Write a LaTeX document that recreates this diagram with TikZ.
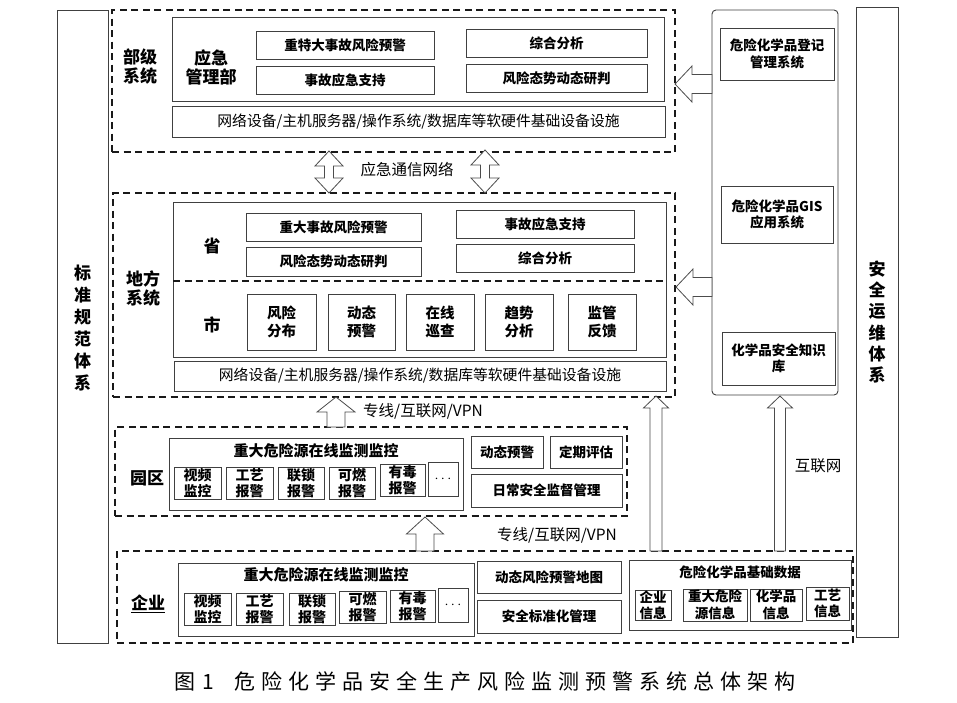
\documentclass[tikz,border=0pt]{standalone}
\usepackage{fontspec}
\setmainfont{Noto Sans CJK SC}
\def\capsp#1{\ifx#1\relax\else#1\kern6pt\expandafter\capsp\fi}
\newcommand\bxn[6][]{\node[#1, minimum width={(#4-#2)*1pt}, minimum height={(#5-#3)*1pt}] (#6) at ({(#2+#4)/2},{(#3+#5)/2})}
% up arrow: cx, ytip, yhead, ybot, headhalf, shafthalf
\newcommand\uparr[6]{\draw[harrow] ({#1-#6},#4) -- ({#1-#6},#3) -- ({#1-#5},#3) -- (#1,#2) -- ({#1+#5},#3) -- ({#1+#6},#3) -- ({#1+#6},#4) -- cycle;}
% double arrow: cx, ytop, ybot, headlen, headhalf, shafthalf
\newcommand\dblarr[6]{\draw[harrow] (#1,#2) -- ({#1+#5},{#2+#4}) -- ({#1+#6},{#2+#4}) -- ({#1+#6},{#3-#4}) -- ({#1+#5},{#3-#4}) -- (#1,#3) -- ({#1-#5},{#3-#4}) -- ({#1-#6},{#3-#4}) -- ({#1-#6},{#2+#4}) -- ({#1-#5},{#2+#4}) -- cycle;}
% left arrow: cy, xtip, xhead, xend, headhalf, shafthalf
\newcommand\leftarr[6]{\draw[harrow] (#4,{#1-#6}) -- (#3,{#1-#6}) -- (#3,{#1-#5}) -- (#2,#1) -- (#3,{#1+#5}) -- (#3,{#1+#6}) -- (#4,{#1+#6}) -- cycle;}
\begin{document}
\begin{tikzpicture}[x=1pt,y=-1pt,
 dbox/.style={draw=black!90, line width=1.5pt, dash pattern=on 7pt off 4.5pt, inner sep=0pt},
 sbox/.style={draw=black!75, line width=0.9pt, inner sep=0pt, align=center},
 lbl/.style={font=\fontsize{17}{19}\selectfont\bfseries, align=center, inner sep=0pt},
 btxt/.style={font=\fontsize{13.5}{16.5}\selectfont\bfseries},
 stxt/.style={font=\fontsize{14}{16.5}\selectfont\bfseries},
 ctxt/.style={font=\fontsize{14.5}{18.5}\selectfont\bfseries},
 ttxt/.style={font=\fontsize{15}{17}\selectfont\bfseries},
 itxt/.style={font=\fontsize{14.8}{17}\selectfont},
 ntxt/.style={font=\fontsize{15.5}{18}\selectfont, inner sep=0pt},
 harrow/.style={draw=black!70, line width=0.8pt, fill=white}]
\fill[white] (0,0) rectangle (957,702);
\useasboundingbox (0,0) rectangle (957,702);

% side bars
\bxn[sbox]{57}{10}{108}{643}{lbar}{};
\node[lbl, font=\fontsize{17}{22}\selectfont\bfseries] (lbart) at (82.5,328) {标\\准\\规\\范\\体\\系};
\bxn[sbox]{856}{7}{898}{637}{rbar}{};
\node[lbl, font=\fontsize{17}{21.3}\selectfont\bfseries] (rbart) at (877,322) {安\\全\\运\\维\\体\\系};

% right panel
\bxn[sbox, rounded corners=4pt]{712}{10}{838}{395}{rp}{};
\bxn[sbox,btxt]{720}{28}{834}{80}{rp1}{危险化学品登记\\管理系统};
\bxn[sbox,btxt]{721}{186}{833}{243}{rp2}{危险化学品GIS\\应用系统};
\bxn[sbox,btxt]{722}{332}{835}{385}{rp3}{化学品安全知识\\库};

% ministry level
\bxn[dbox]{112}{10}{675}{152}{bu}{};
\bxn[sbox]{172}{17}{664}{101}{buin}{};
\node[lbl] (bulbl) at (140,67) {部级\\系统};
\node[lbl] (yjgl) at (211,67) {应急\\管理部};
\bxn[sbox,btxt]{256}{31}{434}{59}{b1}{重特大事故风险预警};
\bxn[sbox,btxt]{256}{66}{434}{94}{b2}{事故应急支持};
\bxn[sbox,btxt]{466}{29}{647}{57}{b3}{综合分析};
\bxn[sbox,btxt]{466}{64}{647}{92}{b4}{风险态势动态研判};
\bxn[sbox,itxt]{172}{106}{665}{137}{binf}{网络设备/主机服务器/操作系统/数据库等软硬件基础设备设施};

% network label
\node[ntxt] (yjtx) at (407,170) {应急通信网络};

% local level
\bxn[dbox]{113}{193}{675}{397}{df}{};
\bxn[sbox]{173}{202}{666}{357}{dfin}{};
\draw[dbox] (173,281) -- (666,281);
\node[lbl] (dflbl) at (143,288) {地方\\系统};
\node[lbl] (sheng) at (212,246) {省};
\node[lbl] (shi) at (212,325) {市};
\bxn[sbox,btxt]{246}{213}{421}{241}{d1}{重大事故风险预警};
\bxn[sbox,btxt]{246}{247}{421}{276}{d2}{风险态势动态研判};
\bxn[sbox,btxt]{456}{210}{634}{238}{d3}{事故应急支持};
\bxn[sbox,btxt]{456}{244}{634}{272}{d4}{综合分析};
\bxn[sbox,ctxt]{247}{294}{316}{350}{c1}{风险\\分布};
\bxn[sbox,ctxt]{328}{294}{395}{350}{c2}{动态\\预警};
\bxn[sbox,ctxt]{406}{294}{474}{350}{c3}{在线\\巡查};
\bxn[sbox,ctxt]{485}{294}{553}{350}{c4}{趋势\\分析};
\bxn[sbox,ctxt]{568}{294}{636}{350}{c5}{监管\\反馈};
\bxn[sbox,itxt]{174}{361}{666}{391}{dinf}{网络设备/主机服务器/操作系统/数据库等软硬件基础设备设施};

% park level
\node[ntxt] (vpn1) at (423,411) {专线/互联网/VPN};
\bxn[dbox]{115}{427}{627}{516}{yq}{};
\node[lbl] (yqlbl) at (147,478) {园区};
\bxn[sbox]{169}{438}{463}{510}{yqin}{};
\node[ttxt, inner sep=0pt] (yqt) at (316,451) {重大危险源在线监测监控};
\bxn[sbox,stxt]{174}{467}{221}{499}{p1}{视频\\监控};
\bxn[sbox,stxt]{226}{467}{273}{499}{p2}{工艺\\报警};
\bxn[sbox,stxt]{278}{467}{324}{499}{p3}{联锁\\报警};
\bxn[sbox,stxt]{329}{467}{375}{499}{p4}{可燃\\报警};
\bxn[sbox,stxt]{380}{464}{425}{496}{p5}{有毒\\报警};
\bxn[sbox,stxt]{428}{462}{458}{496}{p6}{$\cdots$};
\bxn[sbox,btxt]{471}{436}{543}{468}{p7}{动态预警};
\bxn[sbox,btxt]{550}{436}{622}{468}{p8}{定期评估};
\bxn[sbox,btxt]{471}{474}{622}{507}{p9}{日常安全监督管理};

% enterprise level
\node[ntxt] (vpn2) at (557,535) {专线/互联网/VPN};
\node[ntxt] (hlw) at (818,466) {互联网};
\bxn[dbox]{117}{551}{853}{643}{qy}{};
\node[lbl] (qylbl) at (148,604) {\underline{企业}};
\bxn[sbox]{178}{563}{474}{636}{qyin}{};
\node[ttxt, inner sep=0pt] (qyt) at (326,575) {重大危险源在线监测监控};
\bxn[sbox,stxt]{184}{593}{231}{625}{e1}{视频\\监控};
\bxn[sbox,stxt]{236}{593}{283}{625}{e2}{工艺\\报警};
\bxn[sbox,stxt]{289}{593}{335}{625}{e3}{联锁\\报警};
\bxn[sbox,stxt]{339}{591}{386}{623}{e4}{可燃\\报警};
\bxn[sbox,stxt]{390}{590}{435}{622}{e5}{有毒\\报警};
\bxn[sbox,stxt]{438}{588}{468}{622}{e6}{$\cdots$};
\bxn[sbox,btxt]{477}{561}{621}{593}{e7}{动态风险预警地图};
\bxn[sbox,btxt]{477}{600}{621}{633}{e8}{安全标准化管理};
\bxn[sbox]{629}{560}{851}{630}{jc}{};
\node[btxt, inner sep=0pt] (jct) at (740,572) {危险化学品基础数据};
\bxn[sbox,btxt]{635}{591}{671}{620}{f1}{企业\\信息};
\bxn[sbox,btxt]{683}{589}{747}{621}{f2}{重大危险\\源信息};
\bxn[sbox,btxt]{750}{589}{802}{621}{f3}{化学品\\信息};
\bxn[sbox,btxt]{806}{587}{849}{620}{f4}{工艺\\信息};

% block arrows
\dblarr{329}{151}{193}{15}{14}{4.5}
\dblarr{485}{150}{193}{15}{14}{4.5}
\uparr{336}{397}{412}{427}{19}{9}
\uparr{425}{517}{534}{551}{18.5}{9}
\uparr{656}{396}{408}{551}{12.5}{6}
\uparr{780}{396}{408}{551}{12.5}{5.5}
\leftarr{84}{675}{692}{712}{18}{9.5}
\leftarr{287}{676}{693}{712}{18}{9.5}

% caption
\node[font=\fontsize{21}{24}\selectfont, inner sep=0pt] (cap) at (488,681) {图\kern7pt 1\kern20pt\capsp 危险化学品安全生产风险监测预警系统总体架构\relax};
\end{tikzpicture}
\end{document}
